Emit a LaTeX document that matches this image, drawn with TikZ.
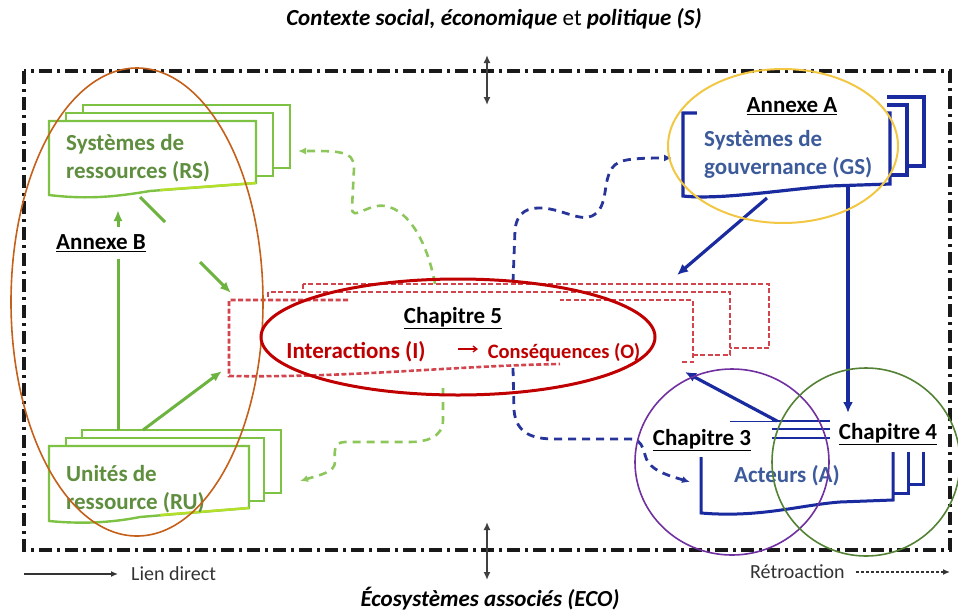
\documentclass[tikz,border=0pt]{standalone}
\usepackage{fontspec}
\setmainfont{Carlito}
\usetikzlibrary{arrows.meta}
\definecolor{gboxc}{HTML}{7DC242}
\definecolor{gtext}{HTML}{5E8E3E}
\definecolor{garc}{HTML}{6DB33F}
\definecolor{gdc}{HTML}{8DC75B}
\definecolor{navy}{HTML}{1A2BA0}
\definecolor{btext}{HTML}{3D5B9B}
\definecolor{bdc}{HTML}{27359B}
\definecolor{rboxc}{HTML}{D2454F}
\definecolor{rtext}{HTML}{C00000}
\definecolor{orangec}{HTML}{C5601A}
\definecolor{yellowc}{HTML}{F2C744}
\definecolor{purplec}{HTML}{7030A0}
\definecolor{greenc}{HTML}{548235}
\definecolor{limec}{HTML}{B5E02A}
\tikzset{
  frame/.style={line width=3.2pt, dash pattern=on 13pt off 5pt on 3pt off 5pt, black!90},
  gboxs/.style={draw=gboxc, line width=2.4pt, fill=white},
  rboxs/.style={draw=rboxc, line width=2.6pt, dash pattern=on 5pt off 2.5pt},
  bboxs/.style={draw=navy, line width=3.2pt, fill=white},
  garrow/.style={draw=garc, line width=3pt, -{Latex[length=11pt,width=9pt]}},
  gline/.style={draw=garc, line width=3pt},
  barrow/.style={draw=navy, line width=3.2pt, -{Latex[length=11pt,width=10pt]}},
  gdash/.style={draw=gdc, line width=2.6pt, dash pattern=on 8pt off 6pt, -{Latex[length=8pt,width=7pt]}},
  bdash/.style={draw=bdc, line width=2.8pt, dash pattern=on 8pt off 6pt, -{Latex[length=8pt,width=7pt]}},
  dblarrow/.style={draw=black!75, line width=2pt, {Latex[length=8pt,width=7pt]}-{Latex[length=8pt,width=7pt]}},
  boxtext/.style={font=\fontsize{23}{28}\selectfont\bfseries, align=left, inner sep=0pt, anchor=west},
  chap/.style={font=\fontsize{23}{26}\selectfont\bfseries, inner sep=1pt, text=black},
  legend/.style={font=\fontsize{20}{24}\selectfont, text=black!80, inner sep=0pt},
}
\begin{document}
\begin{tikzpicture}[x=1pt,y=-1pt]
\useasboundingbox (0,0) rectangle (958,611);

% outer frame
\draw[frame] (24,71) rectangle (950,550);

% titles
\node[font=\fontsize{23}{26}\selectfont, inner sep=0pt] (ctx) at (494,19) {\textbf{\textit{Contexte social, économique}} et \textbf{\textit{politique (S)}}};
\node[font=\fontsize{23}{26}\selectfont\bfseries\itshape, inner sep=0pt] (eco) at (490,599) {Écosystèmes associés (ECO)};

% double arrows
\coordinate (ta) at (487,55); \coordinate (tb) at (487,105);
\coordinate (ba) at (487,522); \coordinate (bb) at (487,580);
\draw[dblarrow] (ta) -- (tb);
\draw[dblarrow] (ba) -- (bb);

% legend
\coordinate (la) at (24,574); \coordinate (lb) at (118,574);
\draw[draw=black!80, line width=1.6pt, -{Latex[length=7pt,width=6pt]}] (la) -- (lb);
\node[legend, anchor=west] (lien) at (131,574) {Lien direct};
\node[legend, anchor=west] (retro) at (750,572) {Rétroaction};
\coordinate (ra) at (856,572); \coordinate (rb) at (950,572);
\draw[draw=black!80, line width=1.6pt, dash pattern=on 3pt off 2pt, -{Latex[length=7pt,width=6pt]}] (ra) -- (rb);

% ---------- RS boxes (green)
\path[gboxs] (83,105) rectangle (290,168);
\path[gboxs] (66,113) rectangle (273,176);
\path[gboxs] (49,121) -- (256,121) -- (256,183) -- (150,191) .. controls (120,196) and (90,200) .. (49,195) -- cycle;
\draw[limec, line width=2.4pt] (160,190) -- (256,183);
\node[boxtext, text=gtext] (rs) at (66,158) {Systèmes de\\ressources (RS)};

% ---------- RU boxes (green)
\path[gboxs] (82,430) rectangle (281,493);
\path[gboxs] (66,438) rectangle (264,501);
\path[gboxs] (49,446) -- (249,446) -- (249,508) -- (140,517) .. controls (110,523) and (80,524) .. (49,521) -- cycle;
\draw[limec, line width=2.4pt] (160,515) -- (249,508);
\node[boxtext, text=gtext] (ru) at (66,489) {Unités de\\ressource (RU)};

% ---------- Red dashed boxes (Chapitre 5)
\path[rboxs, fill=white] (303,284) rectangle (769,348);
\path[rboxs, fill=white] (268,292) rectangle (730,355);
\fill[white] (229,300) -- (693,300) -- (693,362) -- (560,364) .. controls (450,366) and (350,378) .. (229,376) -- cycle;
\draw[rboxs] (348,300) -- (229,300) -- (229,376) .. controls (350,378) and (450,366) .. (560,364);
\draw[rboxs] (682,362) -- (693,362) -- (693,300) -- (560,300);

% ---------- GS boxes (blue)
\path[bboxs] (717,97) rectangle (924,166);
\path[bboxs] (700,105) rectangle (907,175);
\path[bboxs] (683,113) -- (890,113) -- (890,184) -- (830,186) .. controls (780,190) and (720,200) .. (683,196) -- cycle;
\fill[white] (697,86) rectangle (887,121);
\node[boxtext, text=btext] (gs) at (704,154) {Systèmes de\\gouvernance (GS)};
\node[chap] (annA) at (792,106) {\underline{Annexe A}};

% ---------- Acteurs boxes (blue, open top)
\draw[navy, line width=3pt] (701,457) -- (701,513) .. controls (760,518) and (800,505) .. (840,502) -- (893,500) -- (893,452);
\draw[navy, line width=3pt] (893,493) -- (908,493) -- (908,452);
\draw[navy, line width=3pt] (908,484) -- (923,484) -- (923,452);
\node[font=\fontsize{23}{26}\selectfont\bfseries, text=btext, inner sep=0pt] (act) at (787,476) {Acteurs (A)};

% triple lines
\coordinate (t0) at (730,421);
\coordinate (t1) at (772,421); \coordinate (t1e) at (830,421);
\coordinate (t2) at (772,429); \coordinate (t2e) at (830,429);
\coordinate (t3) at (772,438); \coordinate (t3e) at (830,438);
\draw[navy, line width=1pt] (t0) -- (t1);
\draw[navy, line width=2.8pt] (t1) -- (t1e);
\draw[navy, line width=2.8pt] (t2) -- (t2e);
\draw[navy, line width=2.8pt] (t3) -- (t3e);

% ---------- solid arrows
\coordinate (ru1) at (118,430); \coordinate (rs1) at (118,210);
\draw[garrow] (ru1) -- (rs1);
\coordinate (rs2) at (140,197); \coordinate (rs2m) at (165,222);
\coordinate (rs2n) at (200,262); \coordinate (i1) at (231,293);
\draw[gline] (rs2) -- (rs2m);
\draw[garrow] (rs2n) -- (i1);
\coordinate (ru2) at (143,430); \coordinate (i2) at (222,371);
\draw[garrow] (ru2) -- (i2);

\coordinate (gs1) at (767,198); \coordinate (i3) at (677,275);
\draw[barrow] (gs1) -- (i3);
\coordinate (gs2) at (848,185); \coordinate (a1) at (848,413);
\draw[barrow] (gs2) -- (a1);
\coordinate (a2) at (777,421); \coordinate (i4) at (685,372);
\draw[barrow] (a2) -- (i4);

% ---------- dashed feedback arrows
\coordinate (f1s) at (435,284); \coordinate (f1e) at (298,151);
\draw[gdash] (f1s) .. controls (428,245) and (410,210) .. (385,206)
  .. controls (368,203) and (352,222) .. (352,208) -- (354,168)
  .. controls (355,150) and (335,151) .. (f1e);
\coordinate (f2s) at (443,388); \coordinate (f2e) at (300,481);
\draw[gdash] (f2s) -- (443,420) .. controls (443,438) and (425,442) .. (410,442) -- (345,442)
  .. controls (332,442) and (335,455) .. (335,462) .. controls (335,472) and (320,475) .. (f2e);
\coordinate (f3s) at (513,282); \coordinate (f3e) at (672,158);
\draw[bdash] (f3s) -- (515,230) .. controls (517,210) and (530,208) .. (540,208)
  .. controls (560,208) and (580,222) .. (592,216) .. controls (608,208) and (603,185) .. (610,172)
  .. controls (615,160) and (625,158) .. (f3e);
\coordinate (f4s) at (513,368); \coordinate (f4e) at (690,482);
\draw[bdash] (f4s) -- (514,410) .. controls (516,435) and (535,439) .. (555,439) -- (630,439)
  .. controls (645,439) and (643,455) .. (648,462) .. controls (655,472) and (670,476) .. (f4e);

% ---------- Chapitre 5 text
\node[chap] (ch5) at (453,318) {\underline{Chapitre 5}};
\node[font=\fontsize{23}{26}\selectfont\bfseries, text=rtext, inner sep=0pt] (inter) at (356,352) {Interactions (I)};
\node[font=\fontsize{20.5}{24}\selectfont\bfseries, text=rtext, inner sep=0pt] (cons) at (564,352) {Conséquences (O)};
\coordinate (ar1) at (458,349); \coordinate (ar2) at (478,349);
\draw[rtext, line width=1.3pt, -{Straight Barb[length=4pt,width=6pt]}] (ar1) -- (ar2);

% ---------- labels
\node[chap, fill=white, inner ysep=7pt, inner xsep=1pt] (annB) at (101,243) {\underline{Annexe B}};
\node[chap] (ch3) at (702,440) {\underline{Chapitre 3}};
\node[chap] (ch4) at (888,434) {\underline{Chapitre 4}};

% ---------- highlight ellipses / circles
\draw[orangec, line width=1.6pt] (137,302) ellipse [x radius=126, y radius=234];
\draw[rtext, line width=3pt] (458,337) ellipse [x radius=197, y radius=58];
\draw[yellowc, line width=2pt] (783,146) ellipse [x radius=115, y radius=77];
\draw[purplec, line width=1.6pt] (732,462) ellipse [x radius=97, y radius=93];
\draw[greenc, line width=1.6pt] (866,462) ellipse [x radius=94, y radius=94];
\end{tikzpicture}
\end{document}
